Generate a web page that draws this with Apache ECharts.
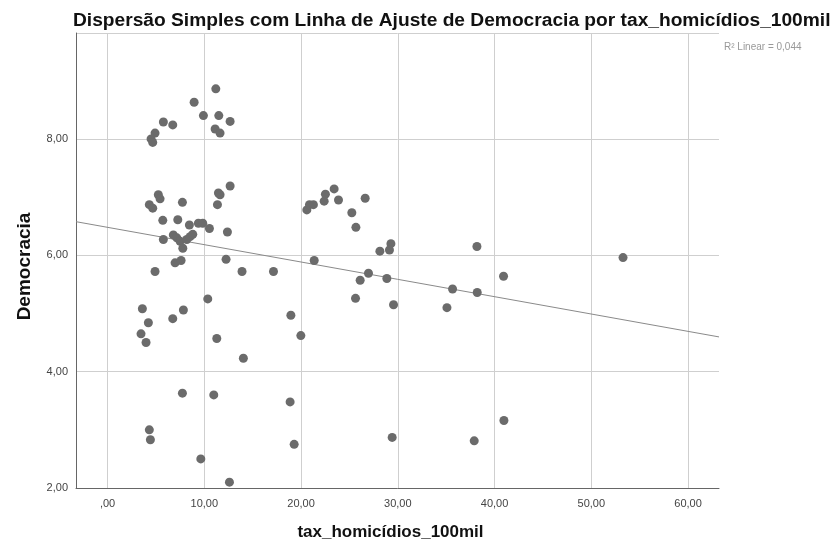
<!DOCTYPE html>
<html>
<head>
<meta charset="utf-8">
<script src="https://cdn.jsdelivr.net/npm/echarts@6/dist/echarts.min.js"></script>
<style>
  html, body { margin: 0; padding: 0; background: #fff; }
  #chart { width: 836px; height: 545px; }
</style>
</head>
<body>
<div id="chart"></div>
<script>
// Homicide rate per 100k (x) and democracy index (y) for each case
const homicideRate = [
  11.19, 8.95, 9.91, 11.5, 12.67, 5.77, 6.74, 11.12, 11.63, 4.91, 4.50, 4.67,
  12.67, 11.46, 11.63, 5.25, 5.43, 4.32, 4.67, 7.74, 11.36,
  5.71, 7.26, 8.46, 9.39, 9.84, 10.53, 12.39, 5.77,
  6.80, 7.16, 7.50, 7.78, 8.19, 8.53, 8.81,
  6.98, 7.60, 12.25, 4.91, 13.9, 17.15,
  10.36, 3.60, 7.84, 6.74, 4.22, 3.46, 3.98, 11.29, 14.04,
  7.74, 10.98, 4.32, 4.43, 9.64, 12.6,
  18.95, 19.98, 21.36, 20.6, 20.87, 21.28, 22.39, 22.52, 23.42, 23.87, 26.63,
  25.25, 25.67, 26.97, 26.11, 25.63, 28.15, 29.29, 29.14, 28.87, 29.56,
  35.66, 35.08, 38.18, 38.21, 40.93,
  18.87, 19.29, 29.42, 37.9, 40.97, 53.28
];
const democracy = [
  8.86, 8.63, 8.40, 8.40, 8.30, 8.29, 8.24, 8.17, 8.10, 8.10, 8.00, 7.94,
  7.19, 7.07, 7.04, 7.04, 6.97, 6.87, 6.81, 6.91, 6.87,
  6.60, 6.61, 6.52, 6.55, 6.55, 6.46, 6.40, 6.27,
  6.35, 6.30, 6.24, 6.12, 6.27, 6.32, 6.36,
  5.87, 5.91, 5.93, 5.72, 5.72, 5.72,
  5.25, 5.08, 5.06, 4.91, 4.84, 4.65, 4.50, 4.57, 4.23,
  3.63, 3.60, 3.00, 2.83, 2.50, 2.10,
  4.97, 4.62, 5.91, 6.78, 6.87, 6.87, 6.93, 7.05, 7.14, 6.95, 6.98,
  6.73, 6.48, 5.69, 5.57, 5.26, 6.07, 6.20, 6.09, 5.60, 5.15,
  5.42, 5.10, 6.15, 5.36, 5.64,
  3.48, 2.75, 2.87, 2.81, 3.16, 5.96
];

// Axis ranges and tick labels
const xRange = [-3.26, 63.2];
const yRange = [2, 9.82];
const xTicks = [0, 10, 20, 30, 40, 50, 60];
const yTicks = [2, 4, 6, 8];

// Linear fit line (total sample)
const fitIntercept = 6.48;
const fitSlope = -0.0298;
const fitR2 = 0.044;

const fmt = v => {
  const s = v.toFixed(2).replace('.', ',');
  return s.startsWith('0,') ? s.slice(1) : s;
};

const points = homicideRate.map((x, i) => [x, democracy[i]]);
const fitLine = xRange.map(x => [x, fitIntercept + fitSlope * x]);

const chart = echarts.init(document.getElementById('chart'), null, { renderer: 'canvas' });
const font = 'Liberation Sans, Arial, sans-serif';

chart.setOption({
  animation: false,
  backgroundColor: '#ffffff',
  title: {
    text: 'R² Linear = ' + fitR2.toFixed(3).replace('.', ','),
    left: 724, top: 42, padding: 0,
    textStyle: { fontFamily: font, fontSize: 10, fontWeight: 'normal', color: '#999' }
  },
  graphic: [{
    type: 'text',
    x: 73, y: 21,
    scaleX: 1.065,
    style: {
      text: 'Dispersão Simples com Linha de Ajuste de Democracia por tax_homicídios_100mil',
      font: 'bold 18px Liberation Sans, Arial, sans-serif',
      fill: '#111',
      verticalAlign: 'middle'
    }
  }],
  grid: { left: 76, right: 117, top: 33, bottom: 57, containLabel: false, outerBoundsMode: 'none' },
  xAxis: {
    type: 'value',
    min: xRange[0], max: xRange[1],
    name: 'tax_homicídios_100mil',
    nameLocation: 'middle', nameGap: 36,
    nameTextStyle: { fontFamily: font, fontSize: 17, fontWeight: 'bold', color: '#111', padding: [0, 14, 0, 0] },
    axisLine: { show: true, onZero: false, lineStyle: { color: '#666', width: 1 } },
    axisTick: { show: false, customValues: xTicks },
    axisLabel: { customValues: xTicks, formatter: fmt, margin: 10, fontFamily: font, fontSize: 11, color: '#444' },
    splitLine: { show: true, lineStyle: { color: '#cfcfcf', width: 1 } }
  },
  yAxis: {
    type: 'value',
    min: yRange[0], max: yRange[1], interval: 2,
    name: 'Democracia',
    nameLocation: 'middle', nameGap: 42, nameRotate: 90,
    nameTextStyle: { fontFamily: font, fontSize: 19, fontWeight: 'bold', color: '#111', padding: [0, 12, 0, 0] },
    axisLine: { show: true, onZero: false, lineStyle: { color: '#666', width: 1 } },
    axisTick: { show: false },
    axisLabel: {
      formatter: v => (yTicks.includes(v) ? fmt(v) : ''),
      margin: 8, fontFamily: font, fontSize: 11, color: '#444'
    },
    splitLine: { show: true, lineStyle: { color: '#cfcfcf', width: 1 } }
  },
  series: [{
    type: 'line',
    data: fitLine,
    symbol: 'none',
    lineStyle: { color: '#8a8a8a', width: 1 },
    silent: true,
    z: 2
  }, {
    type: 'scatter',
    data: points,
    symbolSize: 9,
    itemStyle: { color: '#6b6b6b', opacity: 1 },
    z: 3
  }]
});
</script>
</body>
</html>
